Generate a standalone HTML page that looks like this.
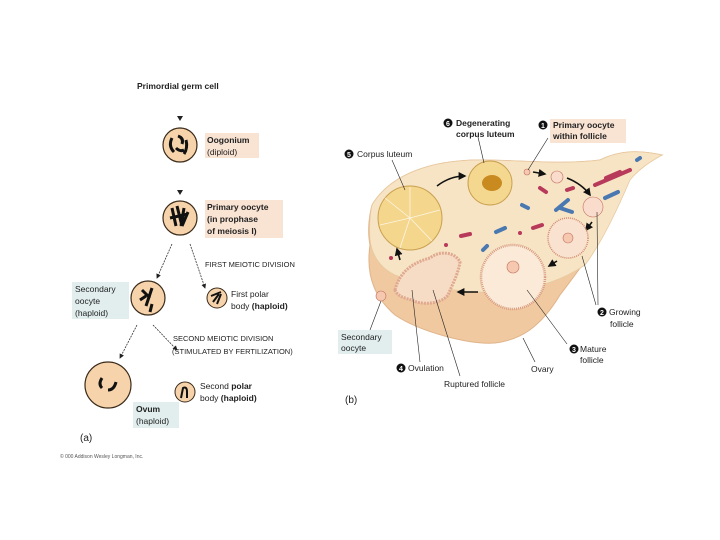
<!DOCTYPE html>
<html><head><style>
html,body{margin:0;padding:0;background:#fff;}
svg{display:block;font-family:"Liberation Sans",sans-serif;}
.b{font-weight:bold}
</style></head><body>
<svg width="720" height="540" viewBox="0 0 720 540" xmlns="http://www.w3.org/2000/svg">
<defs>
<marker id="ah" markerWidth="6" markerHeight="6" refX="5" refY="3" orient="auto"><path d="M0,0 L6,3 L0,6 z" fill="#222"/></marker>
<marker id="ahb" markerWidth="5" markerHeight="5" refX="4" refY="2.5" orient="auto"><path d="M0,0 L5,2.5 L0,5 z" fill="#111"/></marker>
</defs>
<!-- PART A -->
<g font-size="8.5" fill="#222">
<text x="137" y="89" class="b">Primordial germ cell</text>
<path d="M177,116 L183,116 L180,121z" fill="#222"/>
<circle cx="180" cy="145" r="17" fill="#f6d3aa" stroke="#3a2a1a" stroke-width="1.2"/>
<path d="M172,138 q-4,8 2,14 M178,136 q6,2 4,8 M186,140 q2,8 -2,14 M176,148 q4,4 8,2" stroke="#111" stroke-width="3" fill="none"/>
<rect x="205" y="133" width="54" height="25" fill="#f9e3d3"/>
<text x="207" y="143" class="b">Oogonium</text>
<text x="207" y="155">(diploid)</text>
<path d="M177,190 L183,190 L180,195z" fill="#222"/>
<circle cx="180" cy="218" r="17" fill="#f6d3aa" stroke="#3a2a1a" stroke-width="1.2"/>
<path d="M172,208 l4,18 M177,206 l5,20 M184,208 l-3,18 M188,212 l-6,14 M170,218 l18,-4" stroke="#111" stroke-width="3" fill="none"/>
<rect x="205" y="200" width="78" height="38" fill="#f9e3d3"/>
<text x="207" y="210" class="b">Primary oocyte</text>
<text x="207" y="222" class="b">(in prophase</text>
<text x="207" y="234" class="b">of meiosis I)</text>
<line x1="172" y1="244" x2="157" y2="278" stroke="#333" stroke-width="0.8" stroke-dasharray="2,1" marker-end="url(#ah)"/>
<line x1="190" y1="244" x2="205" y2="288" stroke="#333" stroke-width="0.8" stroke-dasharray="2,1" marker-end="url(#ah)"/>
<text x="205" y="267" font-size="7.5">FIRST MEIOTIC DIVISION</text>
<rect x="72" y="282" width="57" height="37" fill="#e2eeee"/>
<text x="75" y="292">Secondary</text>
<text x="75" y="304">oocyte</text>
<text x="75" y="316">(haploid)</text>
<circle cx="148" cy="298" r="17" fill="#f6d3aa" stroke="#3a2a1a" stroke-width="1.2"/>
<path d="M142,290 l8,8 M152,288 l-6,18 M140,300 l6,-4 M152,304 l-2,8" stroke="#111" stroke-width="3" fill="none"/>
<circle cx="217" cy="298" r="10" fill="#f6d3aa" stroke="#3a2a1a" stroke-width="1"/>
<path d="M211,296 l10,-4 M213,302 l6,-8 M217,304 l4,-10" stroke="#111" stroke-width="2" fill="none"/>
<text x="231" y="297">First polar</text>
<text x="231" y="309">body <tspan class="b">(haploid)</tspan></text>
<line x1="137" y1="325" x2="120" y2="358" stroke="#333" stroke-width="0.8" stroke-dasharray="2,1" marker-end="url(#ah)"/>
<line x1="153" y1="325" x2="177" y2="350" stroke="#333" stroke-width="0.8" stroke-dasharray="2,1" marker-end="url(#ah)"/>
<text x="173" y="341" font-size="7.5">SECOND MEIOTIC DIVISION</text>
<text x="172" y="354" font-size="7.5">(STIMULATED BY FERTILIZATION)</text>
<circle cx="108" cy="385" r="23" fill="#f6d3aa" stroke="#3a2a1a" stroke-width="1.2"/>
<path d="M102,378 q-4,6 0,10 M108,390 q6,0 8,-8" stroke="#111" stroke-width="3" fill="none"/>
<circle cx="185" cy="392" r="10" fill="#f6d3aa" stroke="#3a2a1a" stroke-width="1"/>
<path d="M181,398 l2,-10 q4,-2 4,4 l0,6" stroke="#111" stroke-width="2" fill="none"/>
<text x="200" y="389">Second <tspan class="b">polar</tspan></text>
<text x="200" y="401">body <tspan class="b">(haploid)</tspan></text>
<rect x="133" y="402" width="46" height="26" fill="#e2eeee"/>
<text x="136" y="412" class="b">Ovum</text>
<text x="136" y="424">(haploid)</text>
<text x="80" y="441" font-size="10">(a)</text>
<text x="60" y="458" font-size="5" fill="#555">© 000 Addison Wesley Longman, Inc.</text>
</g>
<!-- PART B -->
<!-- ovary base -->
<path d="M370,245 C365,280 378,300 395,315 C420,332 470,345 495,343 C520,340 540,328 560,295 C585,262 610,230 630,178 C640,168 650,160 662,155 C640,150 620,150 600,160 C560,165 520,160 480,160 C430,160 390,175 372,205 C368,220 368,235 370,245z" fill="#f0c9a0" stroke="#e0b48a" stroke-width="1"/>
<!-- cortex lighter -->
<path d="M372,205 C390,175 430,160 480,160 C520,160 560,165 600,160 C620,150 640,150 662,155 C650,162 640,168 630,180 C615,215 600,245 585,265 C560,282 530,290 500,292 C460,294 420,285 395,275 C380,268 372,255 370,240 C369,225 370,214 372,205z" fill="#f7e4c4" stroke="#e8caa0" stroke-width="0.8"/>
<!-- corpus luteum -->
<circle cx="410" cy="218" r="32" fill="#f4d68c" stroke="#c9a050" stroke-width="1"/>
<g stroke="#fff" stroke-width="0.8" opacity="0.8">
<line x1="410" y1="218" x2="410" y2="187"/><line x1="410" y1="218" x2="440" y2="210"/><line x1="410" y1="218" x2="432" y2="241"/><line x1="410" y1="218" x2="400" y2="248"/><line x1="410" y1="218" x2="380" y2="225"/><line x1="410" y1="218" x2="385" y2="198"/>
</g>
<!-- degenerating -->
<circle cx="490" cy="183" r="22" fill="#f5d890" stroke="#c9a050" stroke-width="1"/>
<ellipse cx="492" cy="183" rx="10" ry="8" fill="#c98a20"/>
<!-- arrows in ovary -->
<path d="M437,186 Q450,176 465,176" stroke="#111" stroke-width="1.6" fill="none" marker-end="url(#ahb)"/>
<path d="M533,172 L545,174" stroke="#111" stroke-width="1.6" marker-end="url(#ahb)"/>
<path d="M567,178 Q582,184 590,195" stroke="#111" stroke-width="1.6" fill="none" marker-end="url(#ahb)"/>
<path d="M592,222 L586,230" stroke="#111" stroke-width="1.6" marker-end="url(#ahb)"/>
<path d="M557,261 L549,266" stroke="#111" stroke-width="1.6" marker-end="url(#ahb)"/>
<path d="M478,292 L458,292" stroke="#111" stroke-width="1.6" marker-end="url(#ahb)"/>
<path d="M400,260 L397,249" stroke="#111" stroke-width="1.6" marker-end="url(#ahb)"/>
<!-- follicles -->
<circle cx="527" cy="172" r="3" fill="#f6c8b0" stroke="#c07060" stroke-width="0.6"/>
<circle cx="557" cy="177" r="6" fill="#f9dccb" stroke="#c07060" stroke-width="0.6"/>
<circle cx="593" cy="207" r="10" fill="#f9dccb" stroke="#c07060" stroke-width="0.6"/>
<circle cx="568" cy="238" r="20" fill="#f9e2cf" stroke="#d08a70" stroke-width="1.5" stroke-dasharray="1,1"/>
<circle cx="568" cy="238" r="5" fill="#f6c8b0" stroke="#c07060" stroke-width="0.6"/>
<circle cx="513" cy="277" r="32" fill="#faead7" stroke="#d89a80" stroke-width="2.5" stroke-dasharray="1,1"/>
<circle cx="513" cy="267" r="6" fill="#f6c8b0" stroke="#c07060" stroke-width="0.6"/>
<!-- ruptured follicle -->
<path d="M395,290 C400,270 415,262 430,258 C440,250 455,252 460,262 C458,275 452,285 448,295 C440,305 420,305 412,300 C405,298 398,297 395,290z" fill="#f6dcc4" stroke="#e0a890" stroke-width="3" stroke-dasharray="2,1"/>
<circle cx="381" cy="296" r="5" fill="#f6c8b0" stroke="#c07060" stroke-width="0.6"/>
<!-- vessels -->
<g stroke-linecap="round" fill="none" stroke-width="4">
<path d="M595,185 L630,170" stroke="#b83a5a"/><path d="M606,178 L620,172" stroke="#b83a5a"/>
<path d="M605,198 L618,192" stroke="#4a78b0"/><path d="M637,160 L640,158" stroke="#4a78b0"/>
<path d="M540,188 L546,192" stroke="#b83a5a"/><path d="M567,190 L573,188" stroke="#b83a5a"/>
<path d="M522,205 L528,208" stroke="#4a78b0"/><path d="M556,210 L568,200 M560,208 L572,212" stroke="#4a78b0"/>
<path d="M461,236 L470,234" stroke="#b83a5a"/><path d="M496,232 L505,228" stroke="#4a78b0"/>
<path d="M533,228 L542,225" stroke="#b83a5a"/><path d="M483,250 L487,246" stroke="#4a78b0"/>
</g>
<circle cx="520" cy="233" r="2" fill="#b83a5a"/><circle cx="446" cy="245" r="2" fill="#b83a5a"/><circle cx="391" cy="258" r="2" fill="#b83a5a"/>
<!-- leader lines -->
<g stroke="#222" stroke-width="0.6" fill="none">
<line x1="392" y1="160" x2="405" y2="190"/>
<line x1="478" y1="137" x2="484" y2="163"/>
<line x1="548" y1="138" x2="528" y2="170"/>
<path d="M597,212 L598,305 M582,256 L596,305"/>
<line x1="527" y1="290" x2="567" y2="344"/>
<line x1="523" y1="338" x2="535" y2="362"/>
<line x1="412" y1="290" x2="420" y2="362"/>
<line x1="433" y1="290" x2="460" y2="376"/>
<line x1="381" y1="301" x2="370" y2="330"/>
</g>
<g font-size="8.5" fill="#222">
<circle cx="448" cy="123" r="4.5" fill="#111"/><text x="446" y="126" font-size="7" fill="#fff" class="b">6</text>
<text x="456" y="126" class="b">Degenerating</text>
<text x="456" y="137" class="b">corpus luteum</text>
<rect x="550" y="119" width="76" height="24" fill="#f9e3d3"/>
<circle cx="543" cy="125" r="4.5" fill="#111"/><text x="541" y="128" font-size="7" fill="#fff" class="b">1</text>
<text x="553" y="128" class="b">Primary oocyte</text>
<text x="553" y="139" class="b">within follicle</text>
<circle cx="349" cy="154" r="4.5" fill="#111"/><text x="347" y="157" font-size="7" fill="#fff" class="b">5</text>
<text x="357" y="157">Corpus luteum</text>
<circle cx="602" cy="312" r="4.5" fill="#111"/><text x="600" y="315" font-size="7" fill="#fff" class="b">2</text>
<text x="609" y="315">Growing</text>
<text x="610" y="327">follicle</text>
<circle cx="574" cy="349" r="4.5" fill="#111"/><text x="572" y="352" font-size="7" fill="#fff" class="b">3</text>
<text x="580" y="352">Mature</text>
<text x="580" y="363">follicle</text>
<rect x="338" y="330" width="54" height="24" fill="#e2eeee"/>
<text x="341" y="340">Secondary</text>
<text x="341" y="351">oocyte</text>
<circle cx="401" cy="368" r="4.5" fill="#111"/><text x="399" y="371" font-size="7" fill="#fff" class="b">4</text>
<text x="408" y="371">Ovulation</text>
<text x="531" y="372">Ovary</text>
<text x="444" y="387">Ruptured follicle</text>
<text x="345" y="403" font-size="10">(b)</text>
</g>
</svg>
</body></html>
